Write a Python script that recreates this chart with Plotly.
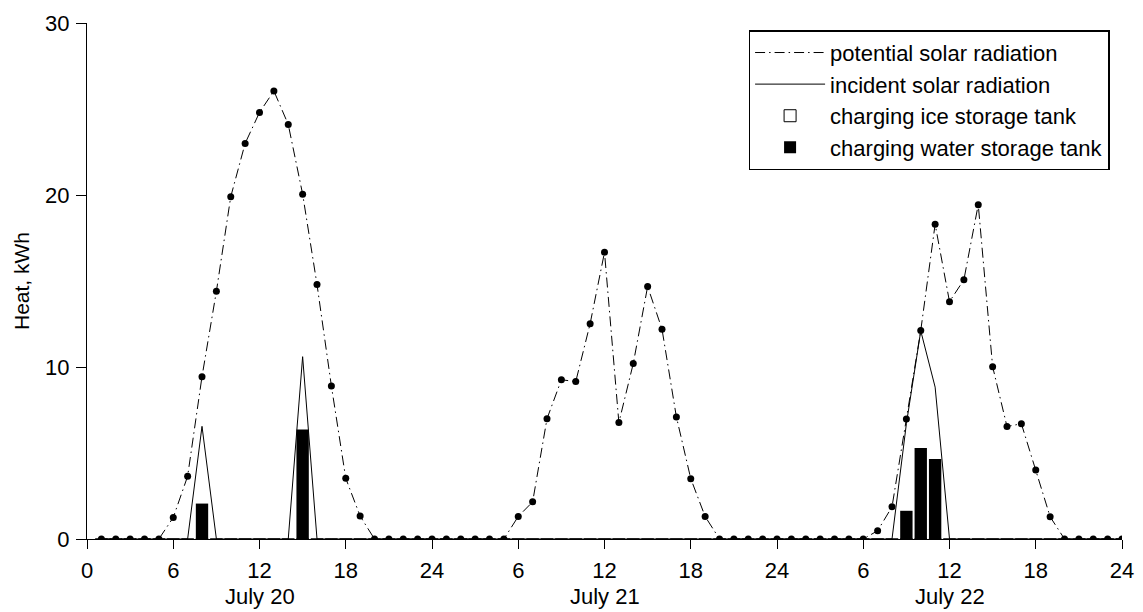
import plotly.graph_objects as go

hours = list(range(1, 73))

potential = [
    0, 0, 0, 0, 0, 1.25, 3.65, 9.44, 14.4, 19.9, 23.0, 24.8,
    26.05, 24.1, 20.05, 14.8, 8.9, 3.53, 1.33, 0, 0, 0, 0, 0,
    0, 0, 0, 0, 0, 1.31, 2.16, 6.99, 9.26, 9.15, 12.52, 16.67,
    6.77, 10.2, 14.68, 12.2, 7.1, 3.51, 1.31, 0, 0, 0, 0, 0,
    0, 0, 0, 0, 0, 0, 0.48, 1.87, 6.98, 12.12, 18.3, 13.8,
    15.07, 19.44, 10.02, 6.54, 6.70, 4.01, 1.29, 0, 0, 0, 0, 0,
]

incident = [
    0, 0, 0, 0, 0, 0, 0, 6.55, 0, 0, 0, 0,
    0, 0, 10.6, 0, 0, 0, 0, 0, 0, 0, 0, 0,
    0, 0, 0, 0, 0, 0, 0, 0, 0, 0, 0, 0,
    0, 0, 0, 0, 0, 0, 0, 0, 0, 0, 0, 0,
    0, 0, 0, 0, 0, 0, 0, 0, 6.7, 12.1, 8.83, 0,
    0, 0, 0, 0, 0, 0, 0, 0, 0, 0, 0, 0,
]

ice_tank = [0] * 72

water_tank = [
    0, 0, 0, 0, 0, 0, 0, 2.06, 0, 0, 0, 0,
    0, 0, 6.36, 0, 0, 0, 0, 0, 0, 0, 0, 0,
    0, 0, 0, 0, 0, 0, 0, 0, 0, 0, 0, 0,
    0, 0, 0, 0, 0, 0, 0, 0, 0, 0, 0, 0,
    0, 0, 0, 0, 0, 0, 0, 0, 1.64, 5.29, 4.65, 0,
    0, 0, 0, 0, 0, 0, 0, 0, 0, 0, 0, 0,
]

tick_vals = list(range(0, 73, 6))
tick_text = ["0", "6", "12", "18", "24", "6", "12", "18", "24", "6", "12", "18", "24"]

day_centers = [12, 36, 60]
day_labels = ["July 20", "July 21", "July 22"]

FONT = "Liberation Sans, Arial, sans-serif"

fig = go.Figure()

fig.add_trace(go.Bar(
    x=hours, y=water_tank, width=0.86, name="charging water storage tank",
    marker=dict(color="black", line=dict(color="black", width=0)),
    legendrank=4,
))
fig.add_trace(go.Bar(
    x=hours, y=ice_tank, width=0.86, name="charging ice storage tank",
    marker=dict(color="white", line=dict(color="black", width=1)),
    legendrank=3,
))
fig.add_trace(go.Scatter(
    x=hours, y=incident, mode="lines", name="incident solar radiation",
    line=dict(color="black", width=1), legendrank=2,
))
fig.add_trace(go.Scatter(
    x=hours, y=potential, mode="lines", name="potential solar radiation",
    line=dict(color="black", width=1, dash="10px,4px,1.5px,4px"), legendrank=1,
))
fig.add_trace(go.Scatter(
    x=hours, y=potential, mode="markers", showlegend=False,
    marker=dict(color="black", size=7),
))

for xc, lab in zip(day_centers, day_labels):
    fig.add_annotation(
        x=xc, xref="x", y=-0.112, yref="paper", text=lab, showarrow=False,
        xanchor="center", yanchor="middle", font=dict(size=22, family=FONT),
    )

fig.update_layout(
    width=1143, height=612,
    margin=dict(l=87, r=21, t=23, b=73),
    paper_bgcolor="white", plot_bgcolor="white",
    barmode="overlay",
    font=dict(family=FONT, size=22, color="black"),
    showlegend=True,
    legend=dict(
        x=0.988, y=0.986, xanchor="right", yanchor="top",
        bgcolor="white", bordercolor="black", borderwidth=1.5,
        font=dict(size=22, family=FONT),
        itemwidth=70,
        tracegroupgap=0,
    ),
    xaxis=dict(
        range=[0, 72], tickvals=tick_vals, ticktext=tick_text,
        showline=True, linecolor="black", linewidth=1,
        ticks="outside", ticklen=9, tickcolor="black", tickwidth=1,
        showgrid=False, zeroline=False, automargin=False,
        ticklabelstandoff=3,
        tickfont=dict(size=22, family=FONT),
    ),
    yaxis=dict(
        range=[0, 30], tickvals=[0, 10, 20, 30],
        showline=True, linecolor="black", linewidth=1,
        ticks="outside", ticklen=10, tickcolor="black", tickwidth=1,
        showgrid=False, zeroline=False, automargin=False,
        ticklabelstandoff=2,
        tickfont=dict(size=22, family=FONT),
        title=dict(text="Heat, kWh", font=dict(size=21, family=FONT), standoff=9),
    ),
)

fig.write_html("out.html")
